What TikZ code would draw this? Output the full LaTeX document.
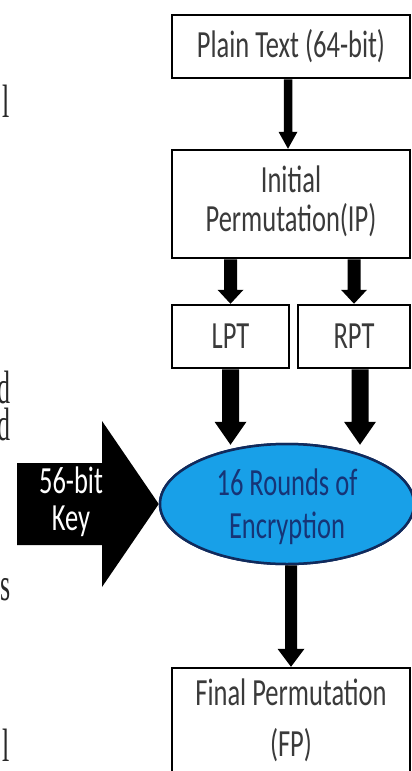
\documentclass[tikz,border=0pt]{standalone}
\usepackage{fontspec}
\setmainfont{Carlito}
\newfontfamily\serifpart{Liberation Serif}
\usepackage{graphicx}
\usetikzlibrary{calc,shapes.geometric}

\definecolor{labelgray}{RGB}{58,58,58}
\definecolor{encfill}{RGB}{24,160,232}
\definecolor{encline}{RGB}{16,42,92}
\definecolor{enctext}{RGB}{22,52,118}
\definecolor{fragtext}{RGB}{40,40,40}

% label font: Carlito, stretched vertically
\newcommand\labelfont{\fontsize{26.5}{27}\selectfont}
\newcommand\vs[1]{\scalebox{1}[1.45]{#1}}
\newcommand\twolines[3]{\vs{\begin{tabular}{@{}c@{}}#1\\[#3]#2\end{tabular}}}
% stretched serif letters along the left margin
\newcommand\fragletter[1]{\scalebox{1}[1.8]{\serifpart\fontsize{26}{26}\selectfont #1}}

% thick block arrow pointing down: from, to, shaft width, head width, head length
\newcommand\blockdown[5]{%
  \fill[black] let \p1=(#1), \p2=(#2) in
    (\x1-#3/2,\y1) -- (\x1-#3/2,\y2+#5) -- (\x1-#4/2,\y2+#5) -- (\x1,\y2)
    -- (\x1+#4/2,\y2+#5) -- (\x1+#3/2,\y2+#5) -- (\x1+#3/2,\y1) -- cycle;}

\tikzset{
  box/.style={draw=black, line width=2.5pt, fill=white, rectangle,
    inner sep=0pt, text=labelgray, font=\labelfont},
  encnode/.style={ellipse, draw=encline, line width=2.5pt, fill=encfill,
    inner sep=0pt, minimum width=254pt, minimum height=120pt},
  frag/.style={anchor=base east, inner sep=0pt, text=fragtext},
}

\begin{document}
\begin{tikzpicture}[x=1pt,y=-1pt]
\clip (0,0) rectangle (412,771);
\fill[white] (0,0) rectangle (412,771);

% letters of the neighbouring text column
\node[frag] (fragA) at (10,117) {\fragletter{l}};
\node[frag] (fragB) at (11,403) {\fragletter{d}};
\node[frag] (fragC) at (11,440) {\fragletter{d}};
\node[frag] (fragD) at (11,600) {\fragletter{s}};
\node[frag] (fragE) at (10,761) {\fragletter{l}};

% process boxes
\node[box, minimum width=238pt, minimum height=63pt] (plain) at (291,46.5)
  {\vs{Plain Text (64-bit)}};
\node[box, minimum width=238pt, minimum height=108pt] (ip) at (291,204)
  {\twolines{Initial}{Permutation(IP)}{-0.8pt}};
\node[box, minimum width=117pt, minimum height=63pt] (lpt) at (230.5,336.5)
  {\vs{LPT}};
\node[box, minimum width=112pt, minimum height=63pt] (rpt) at (354,336.5)
  {\vs{RPT}};
\node[box, minimum width=238pt, minimum height=110pt] (final) at (291,723)
  {\twolines{Final Permutation}{(FP)}{7.5pt}};

% key input arrow
\node[encnode] (enc) at (287,504) {};
\fill[black] (17,463) -- (102,463) -- (102,421) -- (enc.west)
  -- (102,587) -- (102,545) -- (17,545) -- cycle;
\node[encnode] (encagain) at (287,504) {};
\node[inner sep=0pt, text=white, font=\labelfont] (key) at (71,504)
  {\twolines{56-bit}{Key}{-1.5pt}};
\node[inner sep=0pt, text=enctext, font=\labelfont] (enclabel) at (287,509)
  {\twolines{16 Rounds of}{Encryption}{2.7pt}};

% flow arrows
\blockdown{[xshift=-3pt]plain.south}{[xshift=-3pt]ip.north}{8.5pt}{19pt}{17pt}
\blockdown{ip.south -| lpt.north}{lpt.north}{13pt}{26pt}{14pt}
\blockdown{ip.south -| rpt.north}{rpt.north}{13pt}{26pt}{14pt}
\blockdown{lpt.south}{[yshift=-2pt]enc.north -| lpt.south}{17pt}{32pt}{23pt}
\blockdown{[xshift=6pt]rpt.south}{[yshift=-2pt]enc.north -| rpt.south}{17pt}{32pt}{23pt}
\blockdown{enc.south -| final.north}{final.north}{12pt}{27pt}{18pt}
\end{tikzpicture}
\end{document}
